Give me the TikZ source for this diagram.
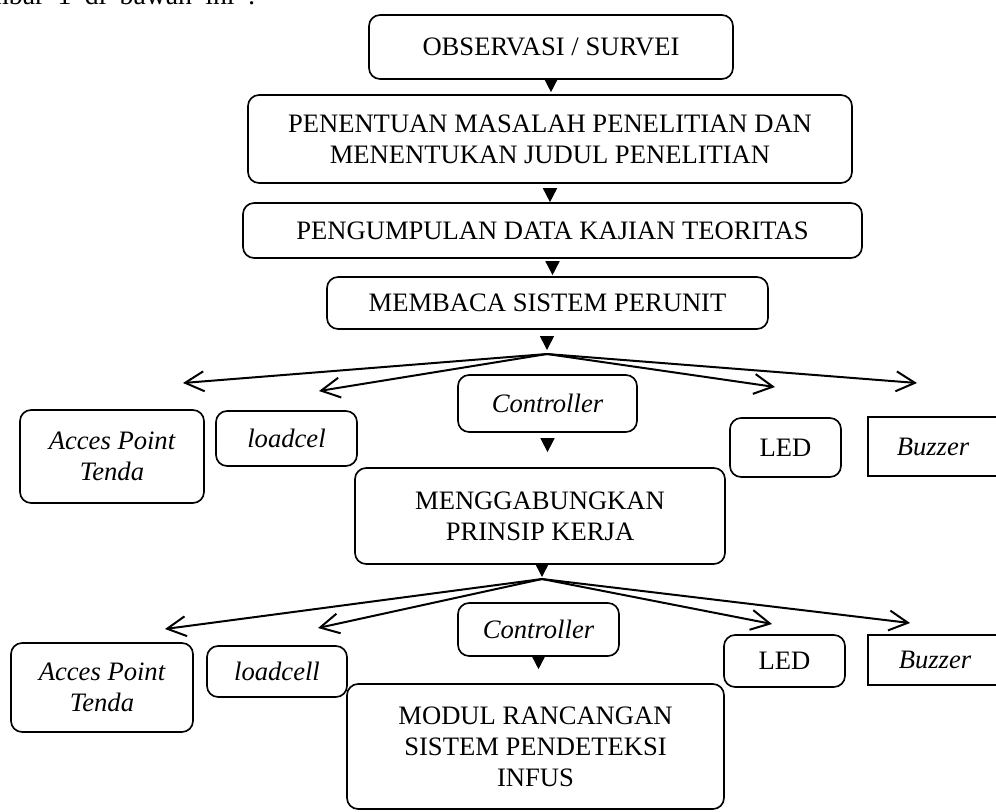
\documentclass[tikz,border=0pt]{standalone}
\usepackage{fontspec}
\setmainfont{Liberation Serif}
\usetikzlibrary{arrows.meta}

\tikzset{
  wh/.style 2 args={minimum width=#1*0.451pt, minimum height=#2*0.451pt},
  box/.style={draw, rounded corners=5pt, line width=0.75pt, inner sep=0pt,
    align=center, font=\fontsize{12}{14}\selectfont},
  sbox/.style={box, sharp corners},
  tri/.style={line width=0.75pt, -{Triangle[length=6.3pt,width=6.3pt]}},
  fan/.style={line width=0.9pt, -{Straight Barb[length=8.5pt,width=9pt]}}
}

\begin{document}
\begin{tikzpicture}[x=0.451pt,y=-0.451pt]
  \useasboundingbox (0,0) rectangle (996,811);
  \node[anchor=base east, inner sep=0pt, font=\fontsize{12.5}{14}\selectfont] (intro) at (256,4) {\spaceskip=6pt\relax Gambar 1 di bawah ini :};

  % main steps
  \node[box, wh={364}{64}] (obs) at (551,47) {OBSERVASI / SURVEI};
  \node[box, wh={604}{88}] (pen) at (550,139) {PENENTUAN MASALAH PENELITIAN DAN\\MENENTUKAN JUDUL PENELITIAN};
  \node[box, wh={619}{55}] (peng) at (552.5,230.5) {PENGUMPULAN DATA KAJIAN TEORITAS};
  \node[box, wh={441}{52}] (mem) at (547.5,303) {MEMBACA SISTEM PERUNIT};

  % first row of parts
  \node[box, wh={184}{93}] (apA) at (112,456.5) {\itshape Acces Point\\\itshape Tenda};
  \node[box, wh={141}{55}] (lcA) at (286.5,438.5) {\itshape loadcel};
  \node[box, wh={179}{57}] (ctlA) at (547.5,403.5) {\itshape Controller};
  \node[box, wh={111}{59}] (ledA) at (785.5,447.5) {LED};
  \node[sbox, wh={130}{59}] (bzA) at (933,446.5) {\itshape Buzzer};

  \node[box, wh={370}{96}] (meng) at (540,516) {MENGGABUNGKAN\\PRINSIP KERJA};

  % second row of parts
  \node[box, wh={182}{89}] (apB) at (102,687.5) {\itshape Acces Point\\\itshape Tenda};
  \node[box, wh={140}{51}] (lcB) at (277,671.5) {\itshape loadcell};
  \node[box, wh={161}{53}] (ctlB) at (538.5,629.5) {\itshape Controller};
  \node[box, wh={121}{52}] (ledB) at (784.5,661) {LED};
  \node[sbox, wh={134}{50}] (bzB) at (935,660) {\itshape Buzzer};

  \node[box, wh={377}{125}] (modul) at (535.5,746.5) {MODUL RANCANGAN\\SISTEM PENDETEKSI\\INFUS};

  % fan points and arrow ends
  \coordinate (fanA) at (547,354);
  \coordinate (toapA) at (183,383);
  \coordinate (tolcA) at (319,391);
  \coordinate (toledA) at (775,387);
  \coordinate (tobzA) at (917,383);
  \coordinate (fanB) at (542,579);
  \coordinate (toapB) at (165,629);
  \coordinate (tolcB) at (318,628);
  \coordinate (toledB) at (772,624);
  \coordinate (tobzB) at (910,623);

  % small filled arrows
  \draw[tri, shorten <=0.45pt, shorten >=0.9pt] (obs.south) -- (obs.south |- pen.north);
  \draw[tri, shorten <=2.3pt] (pen.south) -- (pen.south |- peng.north);
  \draw[tri, shorten <=2.3pt, shorten >=0.45pt] (peng.south) -- (peng.south |- mem.north);
  \draw[tri, shorten <=3.2pt, shorten >=1.8pt] (mem.south -| fanA) -- (fanA);
  \draw[tri, shorten <=2.7pt, shorten >=6.8pt] (ctlA.south) -- (ctlA.south |- meng.north);
  \draw[tri, shorten <=0.45pt, shorten >=0.9pt] (meng.south -| fanB) -- (fanB);
  \draw[tri, shorten <=0.45pt, shorten >=6.3pt] (ctlB.south) -- (ctlB.south |- modul.north);

  % open arrows
  \foreach \t in {toapA,tolcA,toledA,tobzA}
    \draw[fan] (fanA) -- (\t);
  \foreach \t in {toapB,tolcB,toledB,tobzB}
    \draw[fan] (fanB) -- (\t);
\end{tikzpicture}
\end{document}
